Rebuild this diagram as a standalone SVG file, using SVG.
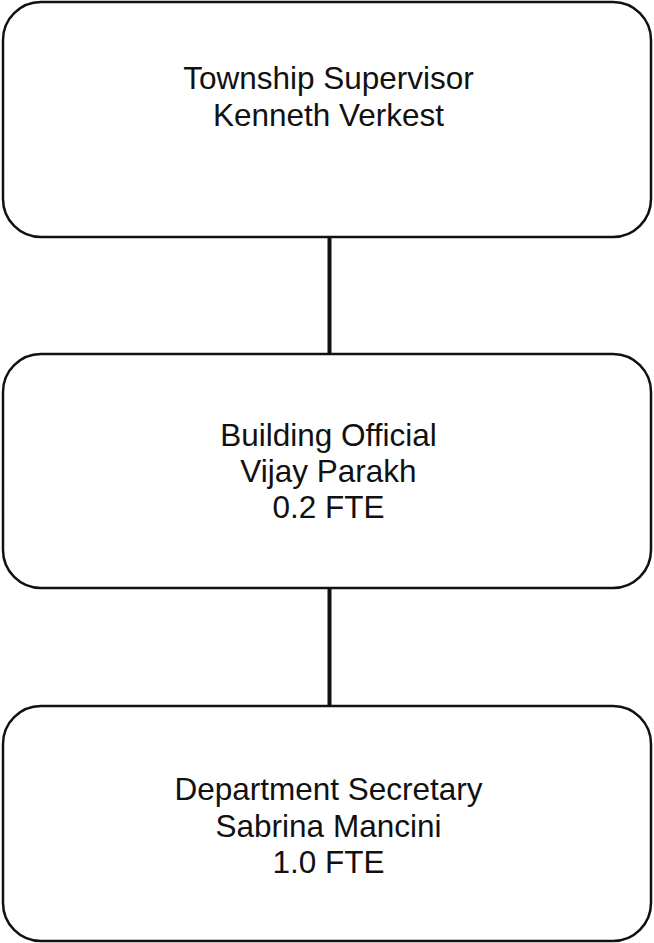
<svg xmlns="http://www.w3.org/2000/svg" width="654" height="943" viewBox="0 0 654 943">
  <style>
    .box { fill: #ffffff; stroke: #111111; stroke-width: 2.5; }
    .label { font-family: "Liberation Sans", Arial, sans-serif; font-size: 31.5px; fill: #111111; text-anchor: middle; }
    .link { stroke: #111111; stroke-width: 4; fill: none; }
  </style>
  <rect width="654" height="943" fill="#ffffff"/>

  <!-- reporting lines -->
  <g id="connectors">
    <line class="link" x1="329.5" y1="237" x2="329.5" y2="354"/>
    <line class="link" x1="329.5" y1="588" x2="329.5" y2="706"/>
  </g>

  <g id="supervisor">
    <rect class="box" x="3" y="2" width="648" height="235" rx="38" ry="38"/>
    <text class="label" x="328.5" y="89">Township Supervisor</text>
    <text class="label" x="328.5" y="126">Kenneth Verkest</text>
  </g>

  <g id="building-official">
    <rect class="box" x="3" y="354" width="648" height="234" rx="38" ry="38"/>
    <text class="label" x="328.5" y="446">Building Official</text>
    <text class="label" x="328.5" y="482">Vijay Parakh</text>
    <text class="label" x="328.5" y="518">0.2 FTE</text>
  </g>

  <g id="secretary">
    <rect class="box" x="3" y="706" width="648" height="235" rx="38" ry="38"/>
    <text class="label" x="328.5" y="800">Department Secretary</text>
    <text class="label" x="328.5" y="837">Sabrina Mancini</text>
    <text class="label" x="328.5" y="873">1.0 FTE</text>
  </g>
</svg>
